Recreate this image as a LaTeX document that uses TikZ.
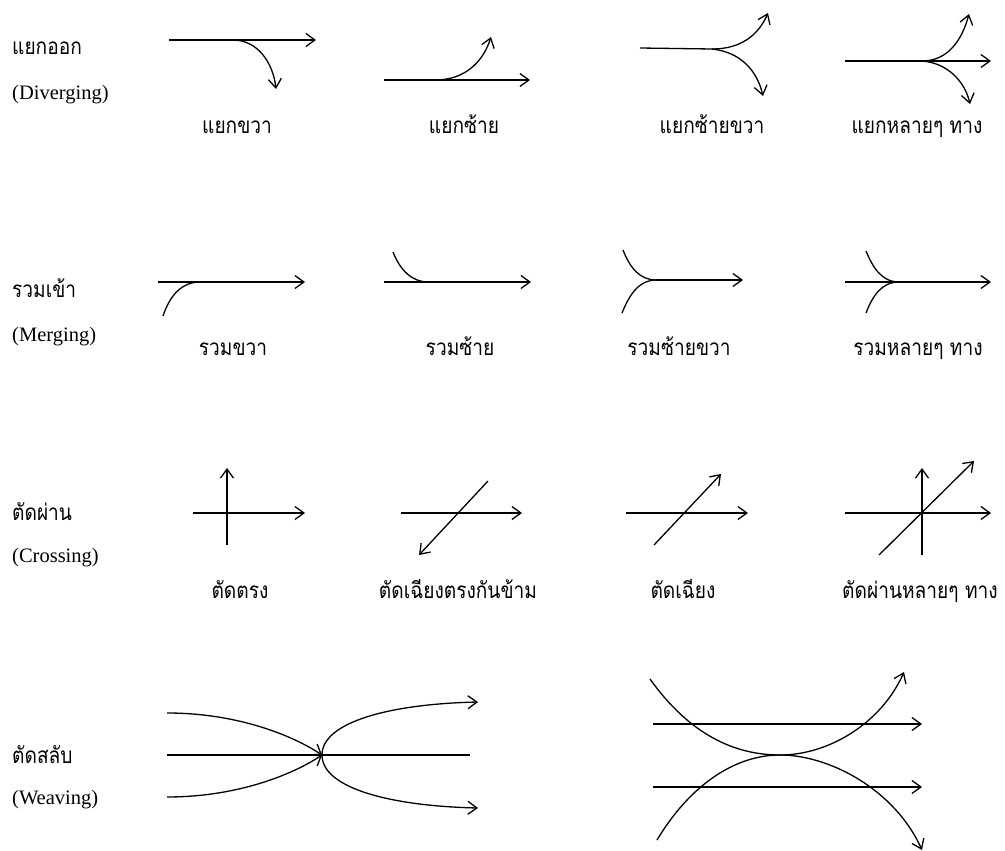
\documentclass[tikz,border=0pt]{standalone}
\usepackage{fontspec}
\setmainfont{Liberation Serif}
\newfontfamily\thaifont[Script=Thai,FakeStretch=0.85]{Loma}
\usetikzlibrary{arrows.meta}
\tikzset{
  ln/.style={line width=1.3pt},
  arr/.style={ln,-{Straight Barb[length=9pt,width=13pt,line width=1.3pt]}},
  th/.style={font=\thaifont\fontsize{22.5}{26}\selectfont},
  en/.style={font=\fontsize{20.5}{24}\selectfont},
  lab/.style={th,anchor=west,inner sep=0pt},
  lbl/.style={en,anchor=west,inner sep=0pt},
  captext/.style={th,inner sep=0pt,anchor=base}
}
\begin{document}
\begin{tikzpicture}[x=1pt,y=-1pt]
\useasboundingbox (0,0) rectangle (1005,851);
% ---------- left labels ----------
\node[lab] (t1) at (12,48) {แยกออก};
\node[lbl] (e1) at (12,95) {(Diverging)};
\node[lab] (t2) at (12,288) {รวมเข้า};
\node[lbl] (e2) at (12,337) {(Merging)};
\node[lab] (t3) at (12,512) {ตัดผ่าน};
\node[lbl] (e3) at (12,558) {(Crossing)};
\node[lab] (t4) at (12,755) {ตัดสลับ};
\node[lbl] (e4) at (12,800) {(Weaving)};
% ---------- captions ----------
\node[captext] (c11) at (237,133) {แยกขวา};
\node[captext] (c12) at (464,133) {แยกซ้าย};
\node[captext] (c13) at (712,133) {แยกซ้ายขวา};
\node[captext] (c14) at (917,133) {แยกหลายๆ ทาง};
\node[captext] (c21) at (233,355) {รวมขวา};
\node[captext] (c22) at (460,355) {รวมซ้าย};
\node[captext] (c23) at (679,355) {รวมซ้ายขวา};
\node[captext] (c24) at (918,355) {รวมหลายๆ ทาง};
\node[captext] (c31) at (240,598) {ตัดตรง};
\node[captext] (c32) at (458,598) {ตัดเฉียงตรงกันข้าม};
\node[captext] (c33) at (683,598) {ตัดเฉียง};
\node[captext] (c34) at (920,598) {ตัดผ่านหลายๆ ทาง};
% ---------- row 1: diverging ----------
\coordinate (a1s) at (169,40); \coordinate (a1e) at (316,40);
\coordinate (a1b) at (233,40); \coordinate (a1d) at (276,89);
\draw[arr] (a1s) -- (a1e);
\draw[arr] (a1b) .. controls (257,40) and (273,62) .. (a1d);
\coordinate (a2s) at (384,80); \coordinate (a2e) at (530,80);
\coordinate (a2b) at (435,80); \coordinate (a2u) at (491,37);
\draw[arr] (a2s) -- (a2e);
\draw[arr] (a2b) .. controls (465,80) and (483,62) .. (a2u);
\coordinate (a3s) at (640,48); \coordinate (a3b) at (712,49);
\coordinate (a3u) at (768,13); \coordinate (a3d) at (763,96);
\draw[ln] (a3s) -- (a3b);
\draw[arr] (a3b) .. controls (740,49) and (758,36) .. (a3u);
\draw[arr] (a3b) .. controls (740,52) and (757,70) .. (a3d);
\coordinate (a4s) at (845,61); \coordinate (a4e) at (991,61);
\coordinate (a4b) at (922,61); \coordinate (a4u) at (969,14); \coordinate (a4d) at (970,104);
\draw[arr] (a4s) -- (a4e);
\draw[arr] (a4b) .. controls (948,61) and (962,40) .. (a4u);
\draw[arr] (a4b) .. controls (948,63) and (965,82) .. (a4d);
% ---------- row 2: merging ----------
\coordinate (b1s) at (158,282); \coordinate (b1e) at (305,282);
\coordinate (b1c) at (163,316); \coordinate (b1m) at (200,282);
\draw[arr] (b1s) -- (b1e);
\draw[ln] (b1c) .. controls (170,295) and (182,282) .. (b1m);
\coordinate (b2s) at (384,282); \coordinate (b2e) at (531,282);
\coordinate (b2c) at (393,252); \coordinate (b2m) at (428,282);
\draw[arr] (b2s) -- (b2e);
\draw[ln] (b2c) .. controls (400,270) and (412,282) .. (b2m);
\coordinate (b3m) at (656,280); \coordinate (b3e) at (743,280);
\coordinate (b3u) at (623,250); \coordinate (b3d) at (622,313);
\draw[arr] (b3m) -- (b3e);
\draw[ln] (b3u) .. controls (630,268) and (640,280) .. (b3m);
\draw[ln] (b3d) .. controls (630,293) and (640,280) .. (b3m);
\coordinate (b4s) at (845,282); \coordinate (b4e) at (991,282);
\coordinate (b4m) at (899,282); \coordinate (b4u) at (866,251); \coordinate (b4d) at (866,313);
\draw[arr] (b4s) -- (b4e);
\draw[ln] (b4u) .. controls (873,268) and (882,282) .. (b4m);
\draw[ln] (b4d) .. controls (873,295) and (882,282) .. (b4m);
% ---------- row 3: crossing ----------
\coordinate (d1s) at (193,513); \coordinate (d1e) at (305,513);
\coordinate (d1b) at (227,545); \coordinate (d1t) at (227,468);
\draw[arr] (d1s) -- (d1e);
\draw[arr] (d1b) -- (d1t);
\coordinate (d2s) at (401,513); \coordinate (d2e) at (522,513);
\coordinate (d2t) at (488,481); \coordinate (d2b) at (419,555);
\draw[arr] (d2s) -- (d2e);
\draw[arr] (d2t) -- (d2b);
\coordinate (d3s) at (626,513); \coordinate (d3e) at (748,513);
\coordinate (d3b) at (654,545); \coordinate (d3t) at (721,474);
\draw[arr] (d3s) -- (d3e);
\draw[arr] (d3b) -- (d3t);
\coordinate (d4s) at (845,513); \coordinate (d4e) at (991,513);
\coordinate (d4vb) at (922,555); \coordinate (d4vt) at (922,468);
\coordinate (d4db) at (879,555); \coordinate (d4dt) at (974,461);
\draw[arr] (d4s) -- (d4e);
\draw[arr] (d4vb) -- (d4vt);
\draw[arr] (d4db) -- (d4dt);
% ---------- row 4: weaving ----------
\coordinate (w1j) at (322,755);
\coordinate (w1ms) at (167,755); \coordinate (w1me) at (470,755);
\coordinate (w1us) at (167,713); \coordinate (w1ls) at (167,797);
\coordinate (w1ue) at (478,702); \coordinate (w1le) at (478,808);
\draw[ln] (w1ms) -- (w1me);
\draw[arr] (w1us) .. controls (240,713) and (295,737) .. (w1j);
\draw[arr] (w1ls) .. controls (240,797) and (295,773) .. (w1j);
\draw[arr] (w1j) .. controls (322,722) and (390,704) .. (w1ue);
\draw[arr] (w1j) .. controls (322,788) and (390,806) .. (w1le);
\coordinate (w2as) at (653,724); \coordinate (w2ae) at (922,724);
\coordinate (w2bs) at (653,787); \coordinate (w2be) at (922,787);
\draw[arr] (w2as) -- (w2ae);
\draw[arr] (w2bs) -- (w2be);
\coordinate (w2t) at (780,755);
\coordinate (w2us) at (650,679); \coordinate (w2ue) at (904,672);
\coordinate (w2ls) at (657,840); \coordinate (w2le) at (922,850);
\draw[arr] (w2us) .. controls (690,735) and (735,755) .. (w2t) .. controls (830,755) and (882,722) .. (w2ue);
\draw[arr] (w2ls) .. controls (690,785) and (735,755) .. (w2t) .. controls (830,755) and (895,790) .. (w2le);
\end{tikzpicture}
\end{document}
